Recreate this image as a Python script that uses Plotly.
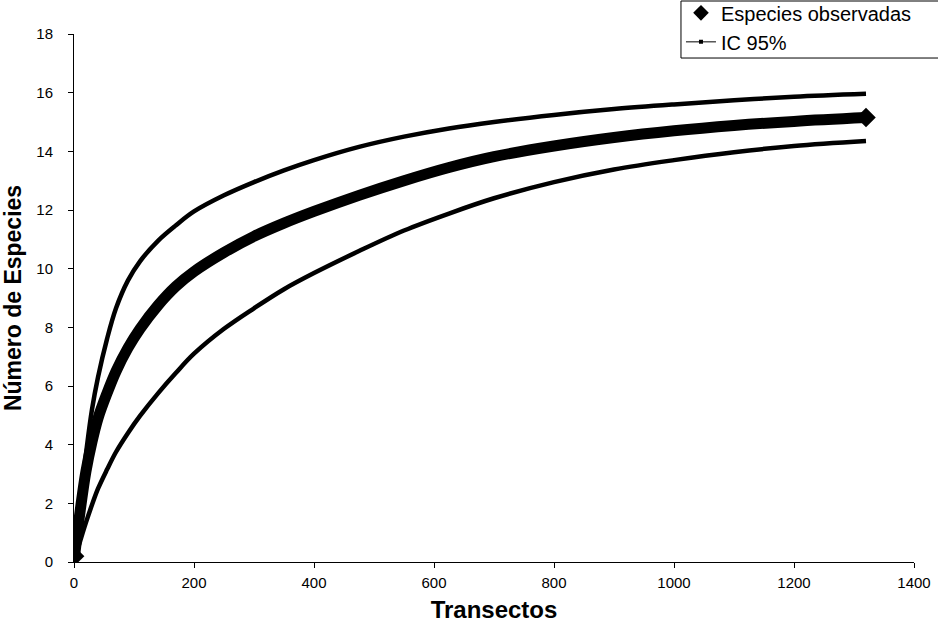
import plotly.graph_objects as go

# Transects (x values)
transectos = [1, 10, 20, 30, 40, 55, 70, 90, 110, 140, 170, 200, 250, 300, 350,
              400, 475, 550, 625, 700, 800, 900, 1000, 1100, 1200, 1320]

# Observed species (rarefaction curve)
especies_obs = [0.2, 1.7, 3.1, 4.1, 4.9, 5.75, 6.5, 7.3, 7.95, 8.75, 9.4, 9.9, 10.55, 11.1, 11.55,
                11.95, 12.5, 13.0, 13.45, 13.82, 14.18, 14.47, 14.7, 14.88, 15.02, 15.15]

# 95% CI upper bound
ic_sup = [0.3, 2.0, 3.7, 5.2, 6.3, 7.6, 8.65, 9.6, 10.25, 10.95, 11.48, 11.95, 12.5, 12.95, 13.35,
          13.7, 14.15, 14.5, 14.78, 15.0, 15.24, 15.44, 15.6, 15.74, 15.86, 15.96]

# 95% CI lower bound
ic_inf = [0.1, 0.7, 1.35, 1.95, 2.5, 3.15, 3.75, 4.4, 4.98, 5.75, 6.45, 7.1, 7.95, 8.65, 9.3,
          9.85, 10.6, 11.3, 11.88, 12.4, 12.95, 13.38, 13.7, 13.97, 14.18, 14.35]

x_ticks = [0, 200, 400, 600, 800, 1000, 1200, 1400]
y_ticks = [0, 2, 4, 6, 8, 10, 12, 14, 16, 18]

FONT = "Arial, Liberation Sans, sans-serif"

fig = go.Figure()

for ys in (ic_sup, ic_inf):
    fig.add_trace(go.Scatter(
        x=transectos, y=ys, mode="lines",
        line=dict(color="black", width=4.5, shape="spline", smoothing=1.0),
        showlegend=False, hoverinfo="skip"))

fig.add_trace(go.Scatter(
    x=transectos, y=especies_obs, mode="lines",
    line=dict(color="black", width=11, shape="spline", smoothing=1.0),
    showlegend=False, hoverinfo="skip"))

# diamond markers at both ends of the observed curve
fig.add_trace(go.Scatter(
    x=[transectos[0], transectos[-1]], y=[especies_obs[0], especies_obs[-1]], mode="markers",
    marker=dict(symbol="diamond", size=15, color="#000000", opacity=1, line=dict(width=0)),
    showlegend=False, hoverinfo="skip"))

# legend entries
fig.add_trace(go.Scatter(
    x=[None], y=[None], mode="markers", name="Especies observadas",
    marker=dict(symbol="diamond", size=12, color="black")))
fig.add_trace(go.Scatter(
    x=[None], y=[None], mode="lines+markers", name="IC 95%",
    line=dict(color="black", width=1),
    marker=dict(symbol="square", size=4, color="black")))

# legend frame (runs off the right edge like the original)
fig.add_shape(
    type="rect", xref="paper", yref="paper",
    x0=0.7226, x1=1.06, y0=0.9545, y1=1.0625,
    line=dict(color="black", width=1), fillcolor="white", layer="above")

fig.update_layout(
    width=938, height=623,
    margin=dict(l=74, r=24, t=34, b=61, autoexpand=False),
    paper_bgcolor="white", plot_bgcolor="white",
    font=dict(family=FONT, color="black", size=15),
    legend=dict(
        x=0.7226, y=1.077, xanchor="left", yanchor="top",
        bgcolor="rgba(0,0,0,0)", borderwidth=0,
        font=dict(size=20, family=FONT), itemwidth=30,
        entrywidth=270, tracegroupgap=0),
    xaxis=dict(
        range=[0, 1400], tickvals=x_ticks, ticktext=[str(v) for v in x_ticks],
        showgrid=False, zeroline=False,
        showline=True, linecolor="black", linewidth=1,
        ticks="outside", ticklen=5, tickcolor="black", tickwidth=1,
        tickfont=dict(size=15, family=FONT), ticklabelstandoff=2,
        title=dict(text="<b>Transectos</b>", font=dict(size=24, family=FONT), standoff=12)),
    yaxis=dict(
        range=[0, 18], tickvals=y_ticks, ticktext=[str(v) for v in y_ticks],
        showgrid=False, zeroline=False,
        showline=True, linecolor="black", linewidth=1,
        ticks="outside", ticklen=5, tickcolor="black", tickwidth=1,
        tickfont=dict(size=15, family=FONT), ticklabelstandoff=12,
        title=dict(text="<b>Número de Especies</b>", font=dict(size=23, family=FONT), standoff=8)),
)

fig.write_html(
    "out.html",
    config={"displayModeBar": False},
    post_script="document.body.style.margin='0';document.body.style.overflow='hidden';",
)
